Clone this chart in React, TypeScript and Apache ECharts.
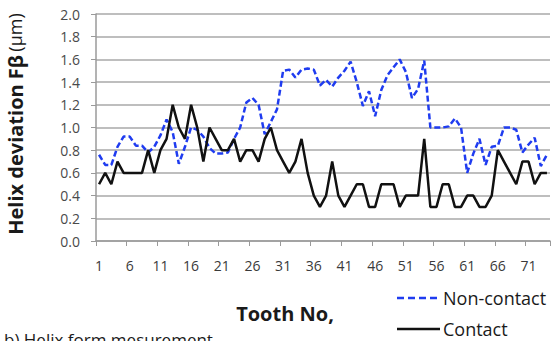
import React, { useEffect, useRef } from "react";
import * as echarts from "echarts";

const teeth: string[] = [
  "1","2","3","4","5","6","7","8","9","10","11","12","13","14","15","16","17","18","19","20",
  "21","22","23","24","25","26","27","28","29","30","31","32","33","34","35","36","37","38","39","40",
  "41","42","43","44","45","46","47","48","49","50","51","52","53","54","55","56","57","58","59","60",
  "61","62","63","64","65","66","67","68","69","70","71","72","73","74",
];

const nonContact: number[] = [
  0.76, 0.67, 0.67, 0.83, 0.92, 0.92, 0.84, 0.84, 0.78, 0.83,
  0.93, 1.07, 0.96, 0.68, 0.83, 1.0, 0.98, 0.92, 0.82, 0.77,
  0.77, 0.78, 0.9, 1.0, 1.22, 1.26, 1.2, 0.94, 1.05, 1.16,
  1.5, 1.51, 1.44, 1.51, 1.52, 1.51, 1.37, 1.42, 1.36, 1.44,
  1.5, 1.58, 1.4, 1.19, 1.32, 1.1, 1.33, 1.46, 1.53, 1.6,
  1.49, 1.26, 1.34, 1.59, 1.0, 1.0, 1.0, 1.01, 1.08, 1.0,
  0.6, 0.77, 0.9, 0.67, 0.83, 0.84, 1.0, 1.0, 0.98, 0.78,
  0.85, 0.91, 0.66, 0.76,
];

const contact: number[] = [
  0.5, 0.6, 0.5, 0.7, 0.6, 0.6, 0.6, 0.6, 0.8, 0.6,
  0.8, 0.9, 1.2, 1.0, 0.9, 1.2, 1.0, 0.7, 1.0, 0.9,
  0.8, 0.8, 0.9, 0.7, 0.8, 0.8, 0.7, 0.9, 1.0, 0.8,
  0.7, 0.6, 0.7, 0.9, 0.6, 0.4, 0.3, 0.4, 0.7, 0.4,
  0.3, 0.4, 0.5, 0.5, 0.3, 0.3, 0.5, 0.5, 0.5, 0.3,
  0.4, 0.4, 0.4, 0.9, 0.3, 0.3, 0.5, 0.5, 0.3, 0.3,
  0.4, 0.4, 0.3, 0.3, 0.4, 0.8, 0.7, 0.6, 0.5, 0.7,
  0.7, 0.5, 0.6, 0.6,
];

const seriesNames = ["Non-contact", "Contact"];
const BLUE = "#1f3cf0";
const BLACK = "#111111";
const FONT = "'Open Sans', 'Noto Sans', sans-serif";

export default function App() {
  const ref = useRef<HTMLDivElement>(null);
  useEffect(() => {
    if (!ref.current) return;
    const chart = echarts.init(ref.current, undefined, { renderer: "svg" });
    chart.setOption({
      animation: false,
      backgroundColor: "#ffffff",
      textStyle: { fontFamily: FONT },
      grid: { left: 96, right: 9, top: 14, bottom: 100, containLabel: false },
      xAxis: {
        type: "category",
        data: teeth,
        boundaryGap: true,
        axisLine: { lineStyle: { color: "#9a9a9a", width: 1.5 } },
        axisTick: { show: true, interval: 4, length: 5, lineStyle: { color: "#9a9a9a" } },
        axisLabel: { interval: 4, color: "#3a3a3a", fontSize: 14, margin: 17, fontFamily: FONT },
        splitLine: { show: false },
      },
      yAxis: {
        type: "value",
        min: 0,
        max: 2,
        interval: 0.2,
        axisLine: { show: true, lineStyle: { color: "#9a9a9a", width: 1.5 } },
        axisTick: { show: true, length: 5, lineStyle: { color: "#9a9a9a" } },
        axisLabel: {
          color: "#4a4a4a",
          fontSize: 14,
          margin: 16,
          fontFamily: FONT,
          formatter: (v: number) => v.toFixed(1),
        },
        splitLine: { show: true, lineStyle: { color: "#a8a8a8", width: 1.5 } },
      },
      series: [
        {
          name: seriesNames[0],
          type: "line",
          data: nonContact,
          symbol: "none",
          lineStyle: { color: BLUE, width: 2.5, type: [6, 3] },
          itemStyle: { color: BLUE },
        },
        {
          name: seriesNames[1],
          type: "line",
          data: contact,
          symbol: "none",
          lineStyle: { color: BLACK, width: 2.5 },
          itemStyle: { color: BLACK },
        },
      ],
      graphic: [
        {
          type: "text",
          x: 15,
          y: 124,
          rotation: Math.PI / 2,
          style: {
            text: "{b|Helix deviation Fβ} {n|(μm)}",
            align: "center",
            verticalAlign: "middle",
            fill: "#1a1a1a",
            rich: {
              b: { fontFamily: FONT, fontWeight: "bold", fontSize: 20, fill: "#1a1a1a" },
              n: { fontFamily: FONT, fontWeight: "normal", fontSize: 18, fill: "#1a1a1a" },
            },
          },
        },
        {
          type: "text",
          x: 285,
          y: 313,
          style: {
            text: "Tooth No,",
            align: "center",
            verticalAlign: "middle",
            fontFamily: FONT,
            fontWeight: "bold",
            fontSize: 20,
            fill: "#1a1a1a",
          },
        },
        {
          type: "line",
          shape: { x1: 397, y1: 298, x2: 440, y2: 298 },
          style: { stroke: BLUE, lineWidth: 2.5, lineDash: [7, 4] },
        },
        {
          type: "text",
          x: 443,
          y: 298,
          style: {
            text: seriesNames[0],
            align: "left",
            verticalAlign: "middle",
            fontFamily: FONT,
            fontSize: 18,
            fill: "#1a1a1a",
          },
        },
        {
          type: "line",
          shape: { x1: 397, y1: 329, x2: 440, y2: 329 },
          style: { stroke: BLACK, lineWidth: 2.5 },
        },
        {
          type: "text",
          x: 443,
          y: 329,
          style: {
            text: seriesNames[1],
            align: "left",
            verticalAlign: "middle",
            fontFamily: FONT,
            fontSize: 18,
            fill: "#1a1a1a",
          },
        },
        {
          type: "text",
          x: 4,
          y: 331,
          style: {
            text: "b) Helix form mesurement",
            align: "left",
            verticalAlign: "top",
            fontFamily: FONT,
            fontSize: 17,
            fill: "#1a1a1a",
          },
        },
      ],
    });
    return () => chart.dispose();
  }, []);
  return (
    <div
      ref={ref}
      style={{ position: "fixed", left: 0, top: 0, width: 559, height: 341 }}
    />
  );
}
